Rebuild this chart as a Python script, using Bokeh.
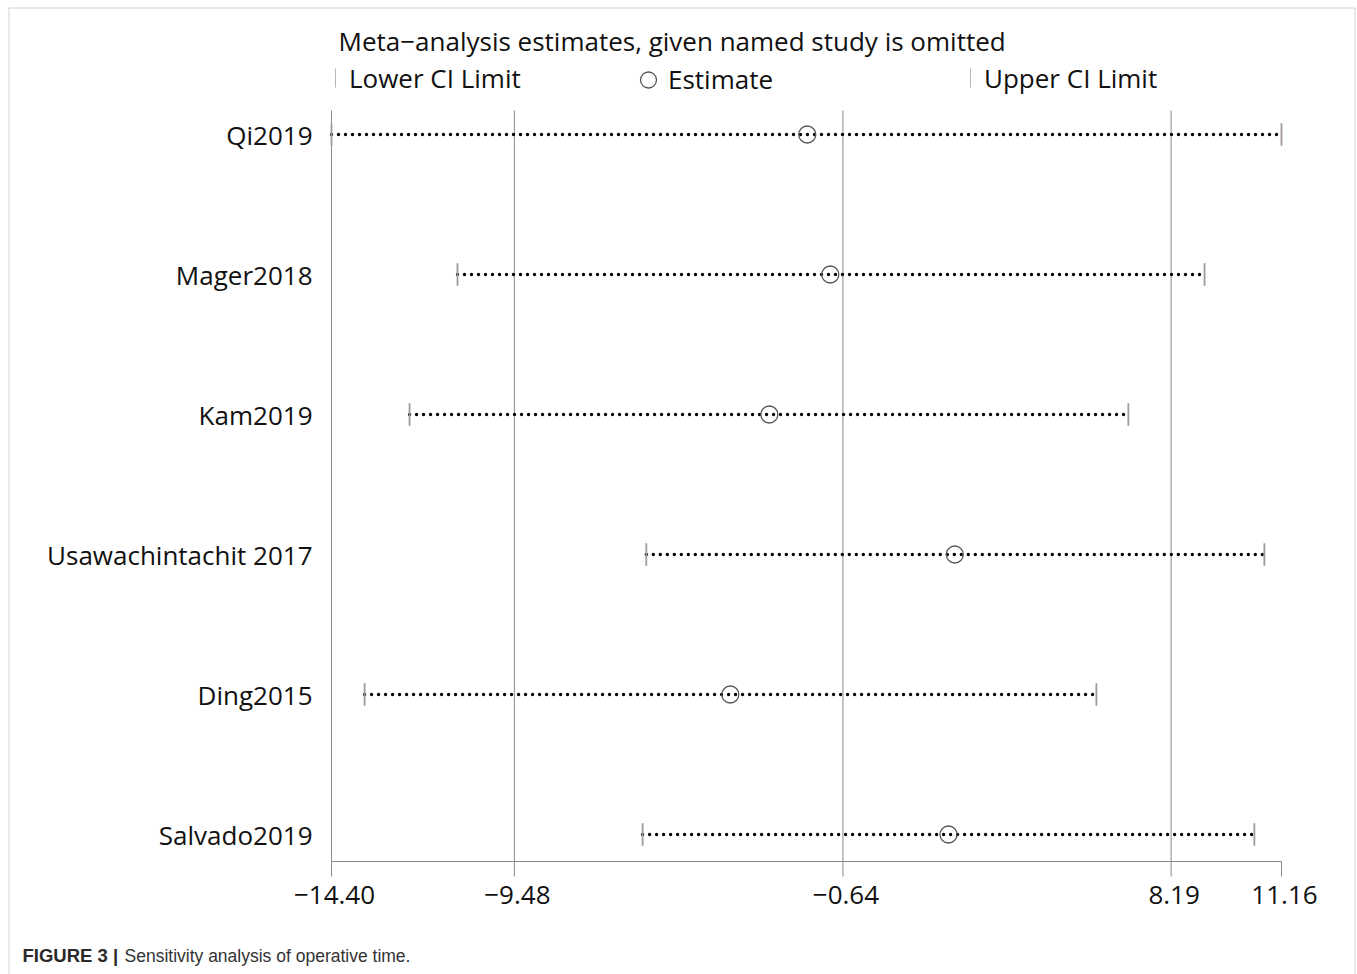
import numpy as np
from bokeh.plotting import figure
from bokeh.models import (ColumnDataSource, Legend, LegendItem, Label,
                          BoxAnnotation, Range1d)
from bokeh.core.properties import value
from bokeh.embed import file_html
from bokeh.resources import INLINE

# ---- data ----
studies = ["Qi2019", "Mager2018", "Kam2019", "Usawachintachit 2017", "Ding2015", "Salvado2019"]
rows = [6, 5, 4, 3, 2, 1]
lower = [-14.40, -11.01, -12.30, -5.93, -13.51, -6.03]
estimate = [-1.60, -0.98, -2.62, 2.37, -3.67, 2.20]
upper = [11.16, 9.09, 7.04, 10.70, 6.18, 10.43]
tick_values = [-14.40, -9.48, -0.64, 8.19, 11.16]
tick_labels = ["\u221214.40", "\u22129.48", "\u22120.64", "8.19", "11.16"]
grid_values = [-14.40, -9.48, -0.64, 8.19]
title_text = "Meta\u2212analysis estimates, given named study is omitted"
legend_labels = ["Lower CI Limit", "Estimate", "Upper CI Limit"]
caption_bold = "FIGURE 3 |"
caption_text = "Sensitivity analysis of operative time."

# ---- layout (pixels) ----
FONT = "Open Sans"
W, H = 1357, 974
X0PX, X1PX = 331, 1281          # pixel of first / last tick value
ROW_TOP_PX, ROW_STEP = 134, 140  # pixel of first row, row spacing
AXIS_PX, GRID_TOP_PX, TICK_LEN = 861, 110, 15
TICKLAB_PX, ROWLAB_PX = 894, 312
CAP_H_PX, CAP_W_PX = 22, 1.2
LEG_Y = 79
PX_PER_UNIT = (X1PX - X0PX) / (tick_values[-1] - tick_values[0])


def x_of(px):
    return tick_values[0] + (px - X0PX) / PX_PER_UNIT


def y_of(py):
    return rows[0] + (ROW_TOP_PX - py) / ROW_STEP


half_cap = CAP_H_PX / 2 / ROW_STEP
src = ColumnDataSource(dict(study=studies, y=rows, lo=lower, est=estimate, hi=upper,
                            ctop=[r + half_cap for r in rows],
                            cbot=[r - half_cap for r in rows]))

p = figure(width=W, height=H, output_backend="svg", toolbar_location=None,
           x_range=Range1d(x_of(0), x_of(W)), y_range=Range1d(y_of(H), y_of(0)),
           x_axis_location=None, y_axis_location=None,
           min_border=0, min_border_left=0, min_border_right=0,
           min_border_top=0, min_border_bottom=0)
p.outline_line_color = None
p.xgrid.visible = False
p.ygrid.visible = False
p.background_fill_color = "white"
p.border_fill_color = "white"

GRAY = "#8a8a8a"
# vertical reference lines
p.segment(x0=grid_values, y0=[y_of(AXIS_PX)] * len(grid_values),
          x1=grid_values, y1=[y_of(GRID_TOP_PX)] * len(grid_values),
          line_color=GRAY, line_width=1)
# x axis line + ticks
p.segment(x0=[tick_values[0]], y0=[y_of(AXIS_PX)], x1=[tick_values[-1]], y1=[y_of(AXIS_PX)],
          line_color=GRAY, line_width=1)
p.segment(x0=tick_values, y0=[y_of(AXIS_PX)] * len(tick_values),
          x1=tick_values, y1=[y_of(AXIS_PX + TICK_LEN)] * len(tick_values),
          line_color=GRAY, line_width=1)
p.text(x=tick_values, y=[y_of(TICKLAB_PX)] * len(tick_values), text=tick_labels,
       text_font=value(FONT), text_font_size="26px", text_color="#111111",
       text_align="center", text_baseline="middle", x_offset=3)
# study labels
p.text(x=[x_of(ROWLAB_PX)] * len(studies), y=rows, text=studies,
       text_font=value(FONT), text_font_size="26px", text_color="#111111",
       text_align="right", text_baseline="middle")

# dotted CI lines
p.segment(x0="lo", y0="y", x1="hi", y1="y", source=src, line_color="black",
          line_width=3.4, line_dash="0 7", line_cap="round")
# caps
CAP = "#a39c9a"
cap_w = CAP_W_PX / PX_PER_UNIT
lo_r = p.vbar(x="lo", width=cap_w, top="ctop", bottom="cbot", source=src,
              fill_color=CAP, line_color=CAP, line_width=0.6)
hi_r = p.vbar(x="hi", width=cap_w, top="ctop", bottom="cbot", source=src,
              fill_color=CAP, line_color=CAP, line_width=0.6)
est_r = p.scatter(x="est", y="y", source=src, marker="circle", size=17,
                  fill_color=None, line_color="#555555", line_width=1.3)

# legends (one per entry so glyph sizes can differ)
common = dict(orientation="horizontal", spacing=0, padding=0, margin=0,
              border_line_color=None, background_fill_alpha=0,
              label_text_font=FONT, label_text_font_size="26px",
              label_text_color="#111111")
leg_lo = Legend(items=[LegendItem(label=legend_labels[0], renderers=[lo_r])],
                location=(335, H - LEG_Y - 16.5), glyph_width=1, glyph_height=23,
                label_height=23, label_standoff=13, **common)
leg_est = Legend(items=[LegendItem(label=legend_labels[1], renderers=[est_r])],
                 location=(628, H - LEG_Y - 22.5), glyph_width=40, glyph_height=45,
                 label_standoff=0, **common)
leg_hi = Legend(items=[LegendItem(label=legend_labels[2], renderers=[hi_r])],
                location=(970, H - LEG_Y - 16.5), glyph_width=1, glyph_height=23,
                label_height=23, label_standoff=13, **common)
for lg in (leg_lo, leg_est, leg_hi):
    p.add_layout(lg, "center")

p.add_layout(Label(x=338, y=H - 40, x_units="screen", y_units="screen", text=title_text,
                   text_font=FONT, text_font_size="26px", text_color="#111111",
                   text_baseline="middle"))
p.add_layout(Label(x=22, y=H - 955, x_units="screen", y_units="screen", text=caption_bold,
                   text_font="Liberation Sans", text_font_size="18.5px", text_font_style="bold",
                   text_color="#2a2a2a", text_baseline="middle"))
p.add_layout(Label(x=124, y=H - 955, x_units="screen", y_units="screen", text=caption_text,
                   text_font="Liberation Sans", text_font_size="17.5px",
                   text_color="#333333", text_baseline="middle"))

# outer frame
p.add_layout(BoxAnnotation(left=8.5, right=1354.5, top=H - 7.5, bottom=-20,
                           left_units="screen", right_units="screen",
                           top_units="screen", bottom_units="screen",
                           fill_alpha=0, line_color="#6e6e6e", line_width=1))

open("out.html", "w").write(file_html(p, INLINE))
